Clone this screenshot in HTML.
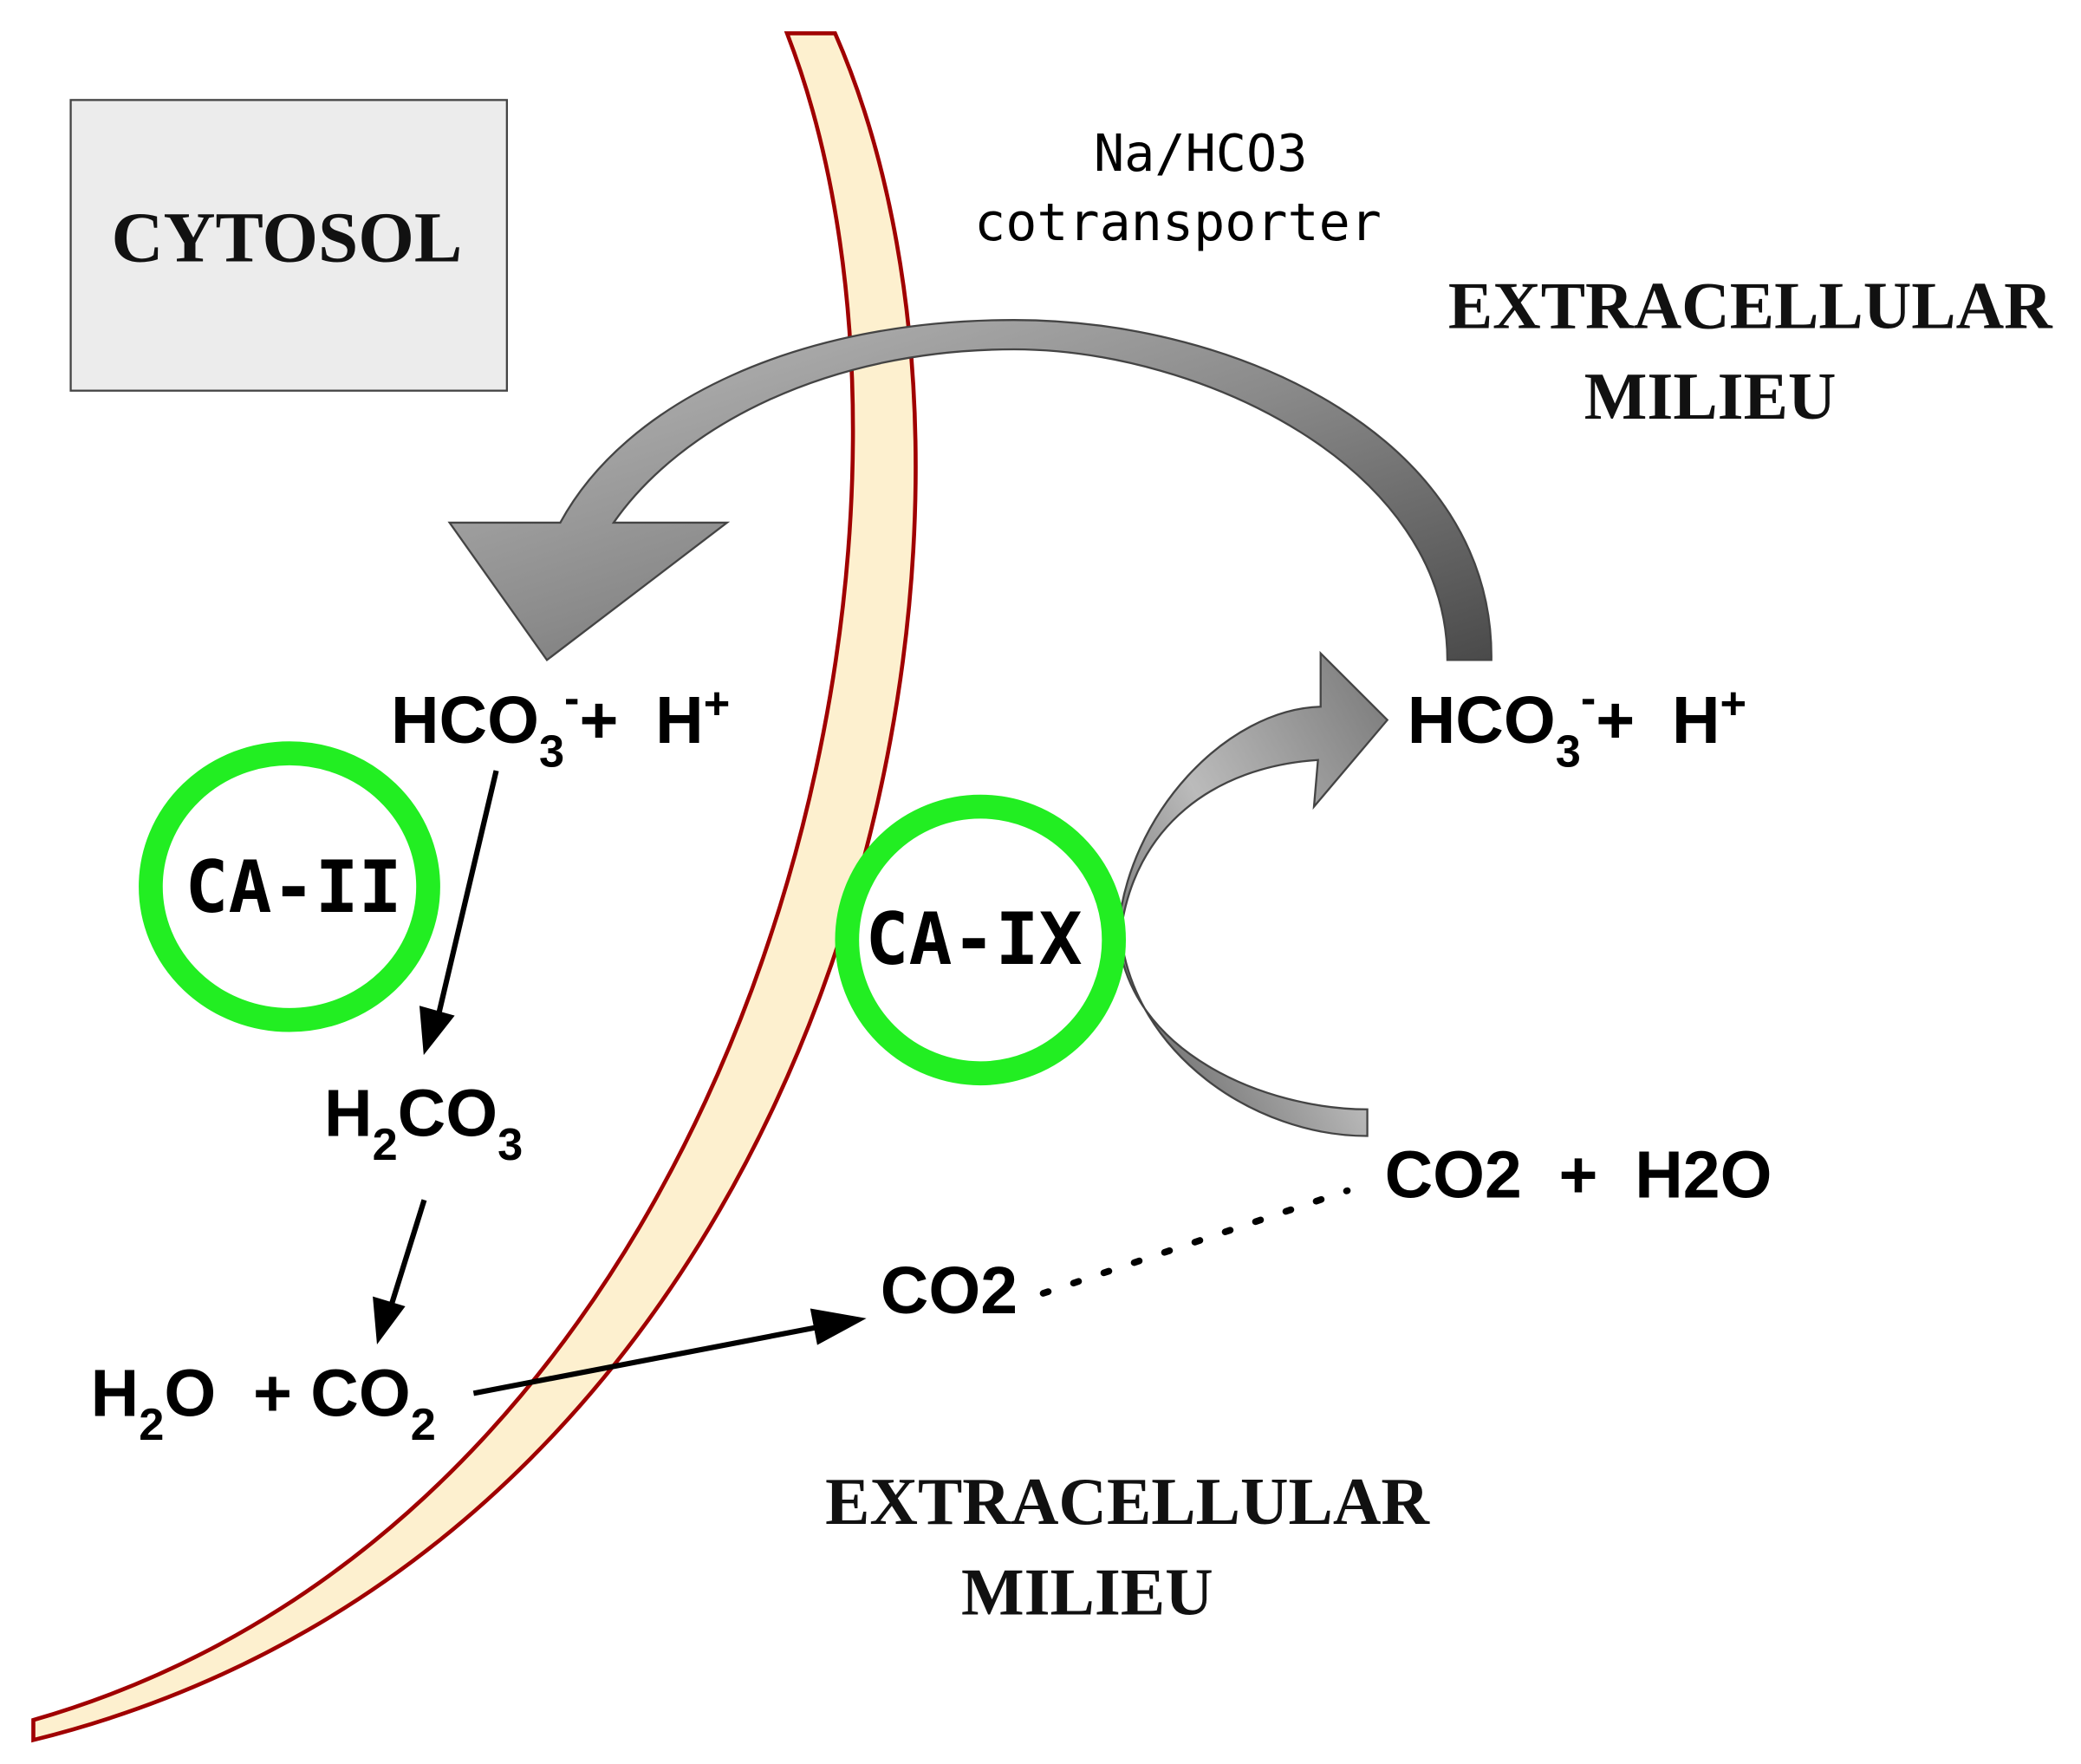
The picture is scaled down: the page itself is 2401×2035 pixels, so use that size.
<!DOCTYPE html>
<html><head><meta charset="utf-8"><style>
html,body{margin:0;padding:0;background:#fff;}
svg{display:block;}
.chem{font-family:"Liberation Sans","DejaVu Sans",sans-serif;font-weight:bold;font-size:50px;fill:#000;}
.mono{font-family:"DejaVu Sans Mono","Liberation Mono",monospace;}
.ser{font-family:"Liberation Serif",serif;font-weight:bold;fill:#111;}
</style></head><body>
<svg width="2401" height="2035" viewBox="0 0 1560 1323" preserveAspectRatio="none" xmlns="http://www.w3.org/2000/svg">
<defs>
<linearGradient id="g1" x1="0" y1="0" x2="1" y2="1">
<stop offset="0" stop-color="#bdbdbd"/><stop offset="0.5" stop-color="#8a8a8a"/><stop offset="1" stop-color="#4a4a4a"/>
</linearGradient>
<linearGradient id="g2" x1="0" y1="1" x2="1" y2="0">
<stop offset="0" stop-color="#555"/><stop offset="0.5" stop-color="#bbb"/><stop offset="1" stop-color="#777"/>
</linearGradient>
</defs>
<!-- membrane -->
<path d="M590,25 C735,400 565,1135 25,1290 L25,1305 C630,1155 790,400 626,25 Z" fill="#fdf0cf" stroke="#a00000" stroke-width="3"/>
<!-- cytosol box -->
<rect x="53" y="75" width="327" height="218" fill="#ececec" stroke="#444" stroke-width="1.5"/>
<text x="215" y="196" class="ser" font-size="54" text-anchor="middle">CYTOSOL</text>
<!-- labels -->
<text x="900" y="128" class="mono" font-size="38" text-anchor="middle">Na/HCO3</text>
<text x="883" y="180" class="mono" font-size="39" text-anchor="middle">cotransporter</text>
<text x="1312" y="246" class="ser" font-size="50" text-anchor="middle">EXTRACELLULAR</text>
<text x="1282" y="314" class="ser" font-size="50" text-anchor="middle">MILIEU</text>
<text x="845" y="1143" class="ser" font-size="50" text-anchor="middle">EXTRACELLULAR</text>
<text x="815" y="1211" class="ser" font-size="50" text-anchor="middle">MILIEU</text>
<!-- big gray arrow -->
<path d="M1118,495 C1120,330 930,240 760,240 C600,240 470,300 420,392 L337,392 L410,495 L545,392 L460,392 C510,320 620,262 760,262 C900,262 1085,350 1085,495 Z" fill="url(#g1)" stroke="#444" stroke-width="1.5"/>
<!-- CA-IX arrow -->
<path d="M1025,832 C950,832 845,790 838,700 C845,610 920,532 990,530 L990,490 L1040,540 L985,605 L988,570 C910,575 850,620 840,700 C850,790 940,852 1025,852 Z" fill="url(#g2)" stroke="#444" stroke-width="1.5"/>
<!-- circles -->
<ellipse cx="217" cy="665" rx="104" ry="100" fill="none" stroke="#22ee22" stroke-width="18"/>
<ellipse cx="735" cy="705" rx="100" ry="100" fill="none" stroke="#22ee22" stroke-width="18"/>
<text x="220" y="684" class="mono" font-weight="bold" font-size="54" text-anchor="middle">CA-II</text>
<text x="730" y="723" class="mono" font-weight="bold" font-size="54" text-anchor="middle">CA-IX</text>
<!-- chemistry -->
<text x="293" y="557" class="chem" xml:space="preserve">HCO<tspan font-size="34" dy="18">3</tspan><tspan font-size="34" dy="-40">-</tspan><tspan dy="22">+  H</tspan><tspan font-size="34" dy="-18">+</tspan></text>
<text x="1055" y="557" class="chem" xml:space="preserve">HCO<tspan font-size="34" dy="18">3</tspan><tspan font-size="34" dy="-40">-</tspan><tspan dy="22">+  H</tspan><tspan font-size="34" dy="-18">+</tspan></text>
<text x="243" y="852" class="chem">H<tspan font-size="34" dy="18">2</tspan><tspan dy="-18">CO</tspan><tspan font-size="34" dy="18">3</tspan></text>
<text x="68" y="1062" class="chem" xml:space="preserve">H<tspan font-size="34" dy="18">2</tspan><tspan dy="-18">O  + CO</tspan><tspan font-size="34" dy="18">2</tspan></text>
<text x="660" y="985" class="chem">CO2</text>
<text x="1038" y="898" class="chem" xml:space="preserve">CO2  +  H2O</text>
<!-- black arrows -->
<g stroke="#000" stroke-width="4" fill="#000">
<line x1="372" y1="578" x2="329" y2="760"/>
<polygon points="318,790 315,755 340,762" stroke-width="1"/>
<line x1="318" y1="900" x2="293" y2="980"/>
<polygon points="283,1007 280,973 303,980" stroke-width="1"/>
<line x1="355" y1="1045" x2="615" y2="995"/>
<polygon points="648,989 608,982 613,1008" stroke-width="1"/>
</g>
<line x1="782" y1="970" x2="1010" y2="893" stroke="#000" stroke-width="5" stroke-dasharray="4,20" stroke-linecap="round"/>
</svg>
</body></html>
